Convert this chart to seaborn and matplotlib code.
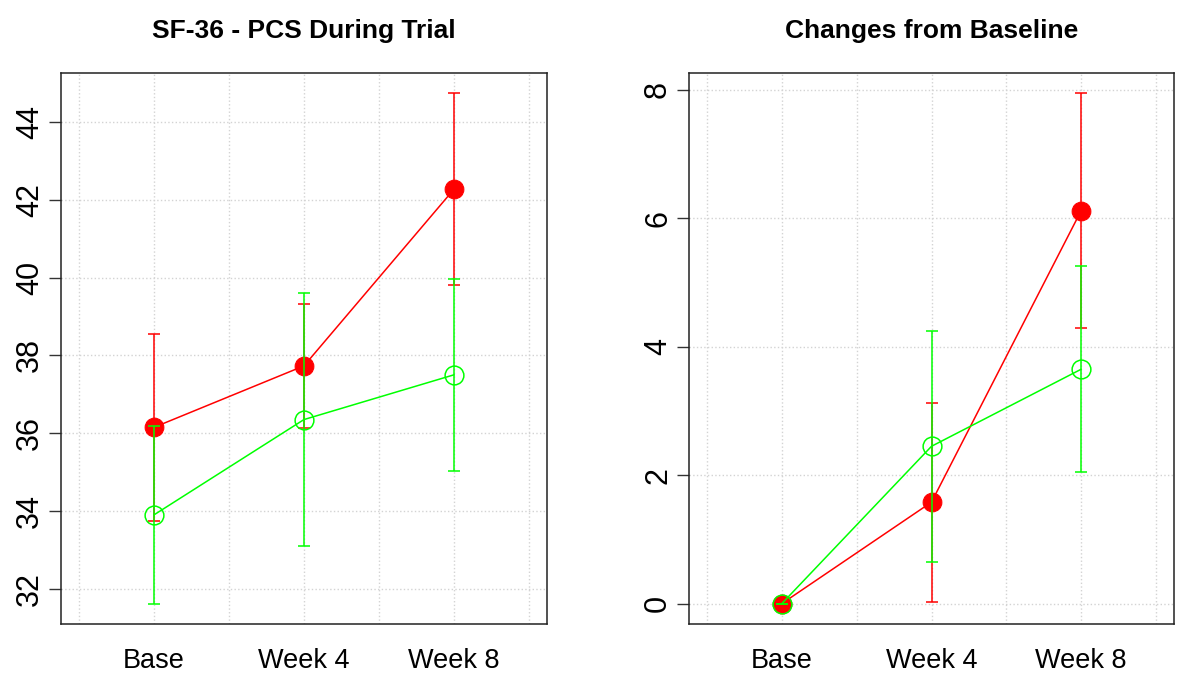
import numpy as np
import pandas as pd
import matplotlib
matplotlib.use("Agg")
import matplotlib.pyplot as plt
import seaborn as sns

# visits on the x axis
visits = ["Base", "Week 4", "Week 8"]

# SF-36 PCS during trial (mean and half-width of error bar)
pcs_red = [36.15, 37.73, 42.27]
pcs_red_err = [2.41, 1.60, 2.47]
pcs_green = [33.90, 36.35, 37.50]
pcs_green_err = [2.28, 3.25, 2.47]

# changes from baseline
chg_red = [0.0, 1.58, 6.12]
chg_red_err = [0.0, 1.55, 1.83]
chg_green = [0.0, 2.45, 3.65]
chg_green_err = [0.0, 1.80, 1.60]

titles = ["SF-36 - PCS During Trial", "Changes from Baseline"]
RED = "#FF0000"
GREEN = "#00FF00"

sns.set_style("white")
plt.rcParams["font.family"] = ["Liberation Sans", "DejaVu Sans"]
plt.rcParams["text.color"] = "black"
plt.rcParams["xtick.color"] = "black"
plt.rcParams["ytick.color"] = "black"


def panel(ax, red, red_err, green, green_err, title, yticks):
    x = np.arange(1, len(visits) + 1)
    df = pd.DataFrame({"x": np.concatenate([x, x]),
                       "y": red + green,
                       "err": red_err + green_err,
                       "group": ["red"] * 3 + ["green"] * 3})

    d = df[df.group == "red"]
    sns.lineplot(data=d, x="x", y="y", ax=ax, color=RED, lw=1.1,
                 marker="o", markersize=13.5, markerfacecolor=RED,
                 markeredgecolor=RED, zorder=3)
    ax.errorbar(d.x, d.y, yerr=d.err, fmt="none", ecolor=RED,
                elinewidth=1.1, capsize=4.5, capthick=1.1, zorder=3)

    d = df[df.group == "green"]
    sns.lineplot(data=d, x="x", y="y", ax=ax, color=GREEN, lw=1.1,
                 marker="o", markersize=13.5, markerfacecolor="none",
                 markeredgecolor=GREEN, markeredgewidth=1.1, zorder=4)
    ax.errorbar(d.x, d.y, yerr=d.err, fmt="none", ecolor=GREEN,
                elinewidth=1.1, capsize=4.5, capthick=1.1, zorder=4)

    lo = (df.y - df.err).min()
    hi = (df.y + df.err).max()
    pad = 0.04 * (hi - lo)
    ax.set_ylim(lo - pad, hi + pad)
    ax.set_xlim(0.5 - 0.04 * 3, 3.5 + 0.04 * 3)

    ax.set_xticks(x)
    ax.set_xticklabels(visits, fontsize=19.5)
    ax.set_xticks(np.arange(0.5, 3.6, 0.5), minor=True)
    ax.set_yticks(yticks)
    ax.set_yticklabels([str(t) for t in yticks], fontsize=22,
                       rotation=90, va="center")
    ax.tick_params(axis="x", which="both", length=0, pad=17)
    ax.tick_params(axis="y", length=8.5, width=1, pad=3, left=True,
                   color="#333333")

    ax.grid(True, which="both", axis="x", color="#D3D3D3", ls=":", lw=1)
    ax.grid(True, which="major", axis="y", color="#D3D3D3", ls=":", lw=1)
    ax.set_axisbelow(True)
    for s in ax.spines.values():
        s.set_visible(True)
        s.set_color("#222222")
        s.set_linewidth(1.1)

    ax.set_xlabel("")
    ax.set_ylabel("")
    ax.set_title(title, fontsize=19, fontweight="bold", pad=25)


fig = plt.figure(figsize=(12, 6.97), dpi=100)
ax1 = fig.add_axes([0.0508, 0.1047, 0.405, 0.791])
ax2 = fig.add_axes([0.5742, 0.1047, 0.4041, 0.791])

panel(ax1, pcs_red, pcs_red_err, pcs_green, pcs_green_err, titles[0],
      [32, 34, 36, 38, 40, 42, 44])
panel(ax2, chg_red, chg_red_err, chg_green, chg_green_err, titles[1],
      [0, 2, 4, 6, 8])

fig.savefig("out.png", dpi=100)
